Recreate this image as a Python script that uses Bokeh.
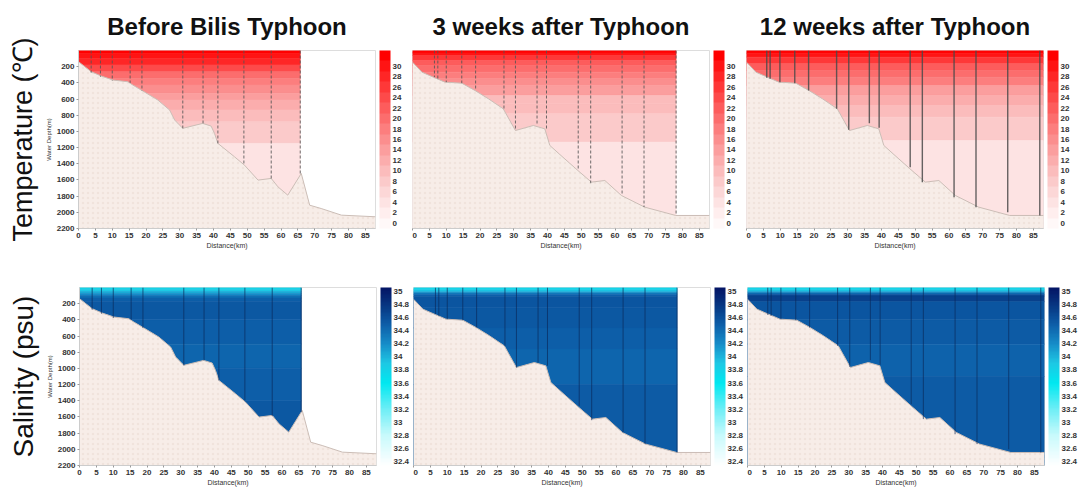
from bokeh.plotting import figure
from bokeh.models import Range1d, FixedTicker, ColorBar, LinearColorMapper, Title, ColumnDataSource
from bokeh.layouts import column, row
from bokeh.transform import transform
from bokeh.embed import file_html
from bokeh.resources import INLINE

# ---------------- data ----------------
col_titles = ["Before Bilis Typhoon", "3 weeks after Typhoon", "12 weeks after Typhoon"]
row_titles = ["Temperature (℃)", "Salinity (psu)"]

distance_ticks = [0, 5, 10, 15, 20, 25, 30, 35, 40, 45, 50, 55, 60, 65, 70, 75, 80, 85]
depth_ticks = [200, 400, 600, 800, 1000, 1200, 1400, 1600, 1800, 2000, 2200]
temp_ticks = [0, 2, 4, 6, 8, 10, 12, 14, 16, 18, 20, 22, 24, 26, 28, 30]
temp_tick_labels = ["0", "2", "4", "6", "8", "10", "12", "14", "16", "18", "20", "22", "24", "26", "28", "30"]
sal_ticks = [32.4, 32.6, 32.8, 33.0, 33.2, 33.4, 33.6, 33.8, 34.0, 34.2, 34.4, 34.6, 34.8, 35.0]
sal_tick_labels = ["32.4", "32.6", "32.8", "33", "33.2", "33.4", "33.6", "33.8", "34", "34.2", "34.4", "34.6", "34.8", "35"]

# bathymetry (distance km, depth m)
bathy_dist_before = [0, 3.75, 6.7, 10.2, 14.6, 16.1, 18.6, 23.5, 27.0, 28.5, 30.9, 36.8, 39.3, 40.3, 41.3, 46.2, 49.2, 53.2, 57.1, 59.1, 62.0, 66.0, 68.5, 71.9, 77.9, 88]
bathy_depth_before = [138, 262, 315, 365, 386, 427, 489, 612, 736, 860, 962, 901, 934, 1025, 1148, 1313, 1418, 1602, 1581, 1685, 1788, 1520, 1912, 1953, 2035, 2055]
bathy_dist_after = [0, 2.8, 6.2, 9.6, 14.6, 18.5, 22.5, 26.9, 30.5, 35.8, 39.2, 40.7, 44.0, 49.0, 53.0, 57.0, 61.9, 68.8, 78.0, 88]
bathy_depth_after = [144, 268, 330, 391, 404, 494, 597, 721, 989, 927, 968, 1174, 1298, 1483, 1627, 1607, 1792, 1936, 2039, 2039]

# stations (distance km, cast bottom depth m)
st_dist_before = [3.75, 6.5, 10, 15.3, 18.8, 30.9, 36.9, 41.3, 49.0, 57.1, 65.7]
st_depth_before = [274, 324, 377, 400, 500, 962, 900, 1148, 1396, 1590, 1540]
st_dist_3w = [6.5, 7.5, 10, 14.6, 18.7, 27.1, 30.5, 36.9, 39.7, 49.1, 52.8, 62.1, 68.6, 78.1]
st_depth_3w = [330, 350, 391, 404, 494, 721, 989, 927, 968, 1463, 1640, 1792, 1936, 2039]
st_dist_12w = [6.0, 7.0, 9.9, 14.3, 18.4, 26.7, 30.3, 36.4, 39.3, 48.5, 52.1, 61.5, 68.0, 77.4, 86.9]
st_depth_12w = [338, 350, 391, 404, 494, 721, 980, 898, 956, 1442, 1627, 1813, 1936, 1998, 2039]

# end of sampled section (km)
section_end = [65.7, 78.1, 88]

# temperature layers (top depth, bottom depth, deg C)
temp_top_before = [0, 40, 97, 179, 262, 344, 427, 530, 612, 736, 880, 1148]
temp_bot_before = [40, 97, 179, 262, 344, 427, 530, 612, 736, 880, 1148, 2200]
temp_before = [32, 30, 27, 24, 20, 18, 16, 14, 12, 10, 7, 4]
temp_top_3w = [0, 30, 62, 124, 185, 268, 350, 433, 556, 659, 783, 1133]
temp_bot_3w = [30, 62, 124, 185, 268, 350, 433, 556, 659, 783, 1133, 2200]
temp_3w = [32, 30, 26, 23, 20, 17, 15, 13, 11, 9, 7, 4]
temp_top_12w = [0, 35, 82, 165, 247, 330, 433, 556, 680, 824, 1112]
temp_bot_12w = [35, 82, 165, 247, 330, 433, 556, 680, 824, 1112, 2200]
temp_12w = [32, 30, 26, 23, 20, 17, 14, 12, 10, 7, 4]

# salinity layers (top depth, bottom depth, psu)
sal_top_before = [0, 25, 50, 75, 100, 130, 170, 400, 700, 1000, 1400]
sal_bot_before = [25, 50, 75, 100, 130, 170, 400, 700, 1000, 1400, 2200]
sal_before = [33.8, 33.9, 34.05, 34.2, 34.38, 34.5, 34.55, 34.5, 34.46, 34.5, 34.54]
sal_top_3w = [0, 25, 45, 65, 85, 110, 250, 500, 760, 1200]
sal_bot_3w = [25, 45, 65, 85, 110, 250, 500, 760, 1200, 2200]
sal_3w = [33.78, 33.88, 34.05, 34.3, 34.48, 34.56, 34.53, 34.49, 34.46, 34.52]
sal_top_12w = [0, 25, 45, 65, 85, 105, 175, 400, 700, 1100]
sal_bot_12w = [25, 45, 65, 85, 105, 175, 400, 700, 1100, 2200]
sal_12w = [33.78, 33.88, 34.1, 34.4, 34.62, 34.7, 34.57, 34.51, 34.47, 34.52]

# ---------------- styling ----------------
FONT = "Liberation Sans"
temp_palette = ["#fff8f8", "#ffeeee", "#fde3e3", "#fcd7d7", "#fbcaca", "#fbbcbc", "#fbadad",
                "#fb9e9e", "#fb8e8e", "#fc7e7e", "#fc6d6d", "#fd5c5c", "#fd4a4a", "#fe3838",
                "#fe2626", "#ff1414", "#ff0000"]

sal_anchor_vals = [32.34, 32.8, 33.2, 33.6, 33.9, 34.2, 34.5, 34.7, 35.06]
sal_anchor_rgb = [(255, 255, 255), (200, 250, 252), (110, 238, 246), (0, 232, 240), (30, 200, 228),
                  (22, 140, 200), (13, 94, 168), (8, 65, 140), (4, 20, 100)]


def build_sal_palette(n=128):
    pal = []
    lo, hi = sal_anchor_vals[0], sal_anchor_vals[-1]
    for i in range(n):
        v = lo + (hi - lo) * (i + 0.5) / n
        for k in range(len(sal_anchor_vals) - 1):
            if sal_anchor_vals[k] <= v <= sal_anchor_vals[k + 1]:
                f = (v - sal_anchor_vals[k]) / (sal_anchor_vals[k + 1] - sal_anchor_vals[k])
                c = [round(a + (b - a) * f) for a, b in zip(sal_anchor_rgb[k], sal_anchor_rgb[k + 1])]
                pal.append("#%02x%02x%02x" % tuple(c))
                break
    return pal


sal_palette = build_sal_palette()

panels = [
    dict(bx=bathy_dist_before, bd=bathy_depth_before, sx=st_dist_before, sd=st_depth_before,
         tt=temp_top_before, tb=temp_bot_before, tv=temp_before,
         st=sal_top_before, sb=sal_bot_before, sv=sal_before, dash="3 2", sw=1, sc="#555555"),
    dict(bx=bathy_dist_after, bd=bathy_depth_after, sx=st_dist_3w, sd=st_depth_3w,
         tt=temp_top_3w, tb=temp_bot_3w, tv=temp_3w,
         st=sal_top_3w, sb=sal_bot_3w, sv=sal_3w, dash="3 2", sw=1, sc="#555555"),
    dict(bx=bathy_dist_after, bd=bathy_depth_after, sx=st_dist_12w, sd=st_depth_12w,
         tt=temp_top_12w, tb=temp_bot_12w, tv=temp_12w,
         st=sal_top_12w, sb=sal_bot_12w, sv=sal_12w, dash="solid", sw=1.4, sc="#4a4a4a"),
]

left_border = [69, 0, 0]
right_border = [37, 37, 34]


def make_panel(r, c):
    d = panels[c]
    p = figure(frame_width=297, frame_height=178, x_range=Range1d(0, 88), y_range=Range1d(2200, 0),
               output_backend="svg", toolbar_location=None,
               min_border_left=left_border[c], min_border_right=right_border[c],
               min_border_top=50 if r == 0 else 36, min_border_bottom=22 if r == 0 else 21)
    p.background_fill_color = "white"
    p.border_fill_color = "white"
    p.outline_line_color = "#dddddd"
    p.grid.visible = False

    if r == 0:
        mapper = LinearColorMapper(palette=temp_palette, low=-1, high=33)
        src = ColumnDataSource(dict(top=d["tt"], bottom=d["tb"], val=d["tv"]))
        ticks, labels = temp_ticks, temp_tick_labels
        st_color, st_dash, st_w = d["sc"], d["dash"], d["sw"]
    else:
        mapper = LinearColorMapper(palette=sal_palette, low=32.34, high=35.06)
        src = ColumnDataSource(dict(top=d["st"], bottom=d["sb"], val=d["sv"]))
        ticks, labels = sal_ticks, sal_tick_labels
        st_color, st_dash, st_w = "#0a2a5a", "solid", 0.8

    p.quad(left=0, right=section_end[c], top="top", bottom="bottom", source=src,
           fill_color=transform("val", mapper), line_color=transform("val", mapper), line_width=0.6)

    p.varea(x=d["bx"], y1=d["bd"], y2=2200, fill_color="#f7ede8",
            hatch_pattern="dot", hatch_color="#e8d8d0", hatch_scale=5, hatch_alpha=0.5)
    p.line(d["bx"], d["bd"], line_color="#cbbdb6", line_width=1)

    p.segment(x0=d["sx"], y0=0, x1=d["sx"], y1=d["sd"], line_color=st_color,
              line_dash=st_dash, line_width=st_w, line_alpha=0.85)

    # axes
    p.xaxis.ticker = FixedTicker(ticks=distance_ticks)
    p.xaxis.axis_label = "Distance(km)"
    p.xaxis.axis_label_text_font = FONT
    p.xaxis.axis_label_text_font_size = "7px"
    p.xaxis.axis_label_text_font_style = "normal"
    p.xaxis.axis_label_text_color = "#333333"
    p.xaxis.axis_label_standoff = 1
    p.xaxis.major_label_text_font = FONT
    p.xaxis.major_label_text_font_size = "8px"
    p.xaxis.major_label_text_font_style = "bold"
    p.xaxis.major_label_text_color = "#333333"
    p.xaxis.major_label_standoff = 2
    p.xaxis.major_tick_out = 2
    p.xaxis.major_tick_in = 0
    p.xaxis.minor_tick_line_color = None
    p.xaxis.axis_line_color = "#cccccc"
    p.xaxis.major_tick_line_color = "#999999"

    if c == 0:
        p.yaxis.ticker = FixedTicker(ticks=depth_ticks)
        p.yaxis.axis_label = "Water Depth(m)"
        p.yaxis.axis_label_text_font = FONT
        p.yaxis.axis_label_text_font_size = "6px"
        p.yaxis.axis_label_text_font_style = "normal"
        p.yaxis.axis_label_text_color = "#333333"
        p.yaxis.axis_label_standoff = 2
        p.yaxis.major_label_text_font = FONT
        p.yaxis.major_label_text_font_size = "8px"
        p.yaxis.major_label_text_font_style = "bold"
        p.yaxis.major_label_text_color = "#333333"
        p.yaxis.major_label_standoff = 2
        p.yaxis.major_tick_out = 2
        p.yaxis.major_tick_in = 0
        p.yaxis.minor_tick_line_color = None
        p.yaxis.axis_line_color = "#cccccc"
        p.yaxis.major_tick_line_color = "#999999"
        p.add_layout(Title(text=row_titles[r], align="center", text_font=FONT,
                           text_font_size="27px" if r == 0 else "28px", text_font_style="normal",
                           text_color="#111111"), "left")
    else:
        p.yaxis.visible = False

    cb = ColorBar(color_mapper=mapper, ticker=FixedTicker(ticks=ticks),
                  major_label_overrides={t: l for t, l in zip(ticks, labels)},
                  width=11, height=178, margin=0, padding=0, label_standoff=2, location=(4, 0),
                  major_tick_line_color=None, minor_tick_line_color=None,
                  bar_line_color=None, border_line_color=None, background_fill_alpha=0,
                  major_label_text_font=FONT, major_label_text_font_size="8px",
                  major_label_text_font_style="bold", major_label_text_color="#333333")
    p.add_layout(cb, "right")

    if r == 0:
        p.add_layout(Title(text=col_titles[c], align="center", text_font=FONT, standoff=21,
                           text_font_size="24px", text_font_style="bold", text_color="#111111"), "above")
    return p


rows = []
for r in range(2):
    rows.append(row(*[make_panel(r, c) for c in range(3)]))
layout = column(*rows)

open("out.html", "w").write(file_html(layout, INLINE))
